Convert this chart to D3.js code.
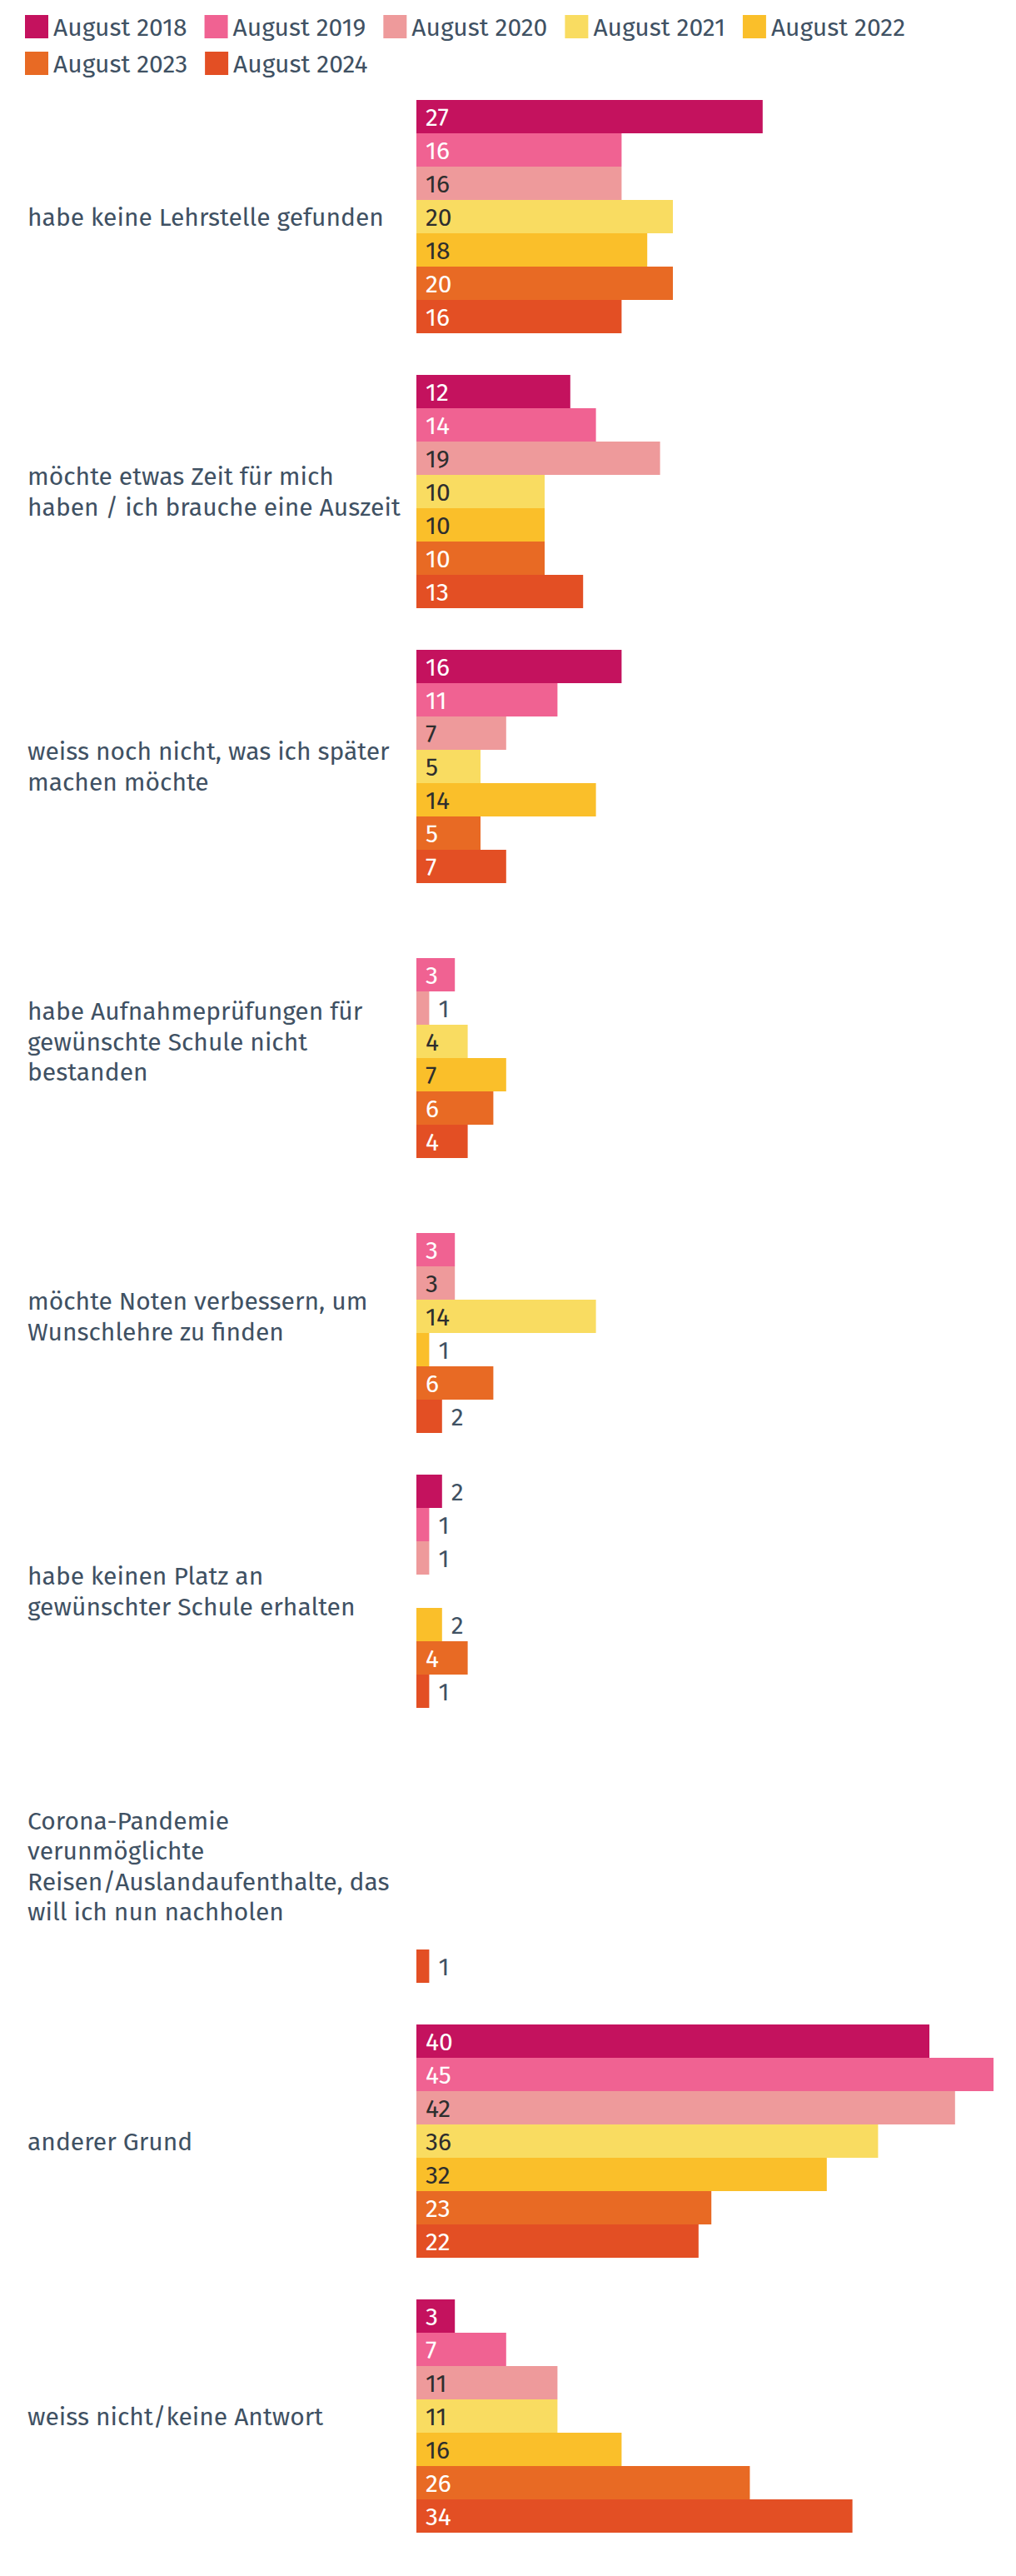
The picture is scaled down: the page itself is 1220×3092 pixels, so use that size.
<!DOCTYPE html>
<html>
<head>
<meta charset="utf-8">
<script src="https://cdn.jsdelivr.net/npm/d3@7"></script>
<style>
  html, body { margin: 0; padding: 0; background: #ffffff; }
  svg { display: block; }
  text { font-family: "Fira Sans", "Open Sans", "Noto Sans", sans-serif; }
</style>
</head>
<body>
<div id="chart"></div>
<script>
// ---------- data ----------
const years = ["August 2018", "August 2019", "August 2020", "August 2021", "August 2022", "August 2023", "August 2024"];

const categories = [
  "habe keine Lehrstelle gefunden",
  "möchte etwas Zeit für mich\nhaben / ich brauche eine Auszeit",
  "weiss noch nicht, was ich später\nmachen möchte",
  "habe Aufnahmeprüfungen für\ngewünschte Schule nicht\nbestanden",
  "möchte Noten verbessern, um\nWunschlehre zu finden",
  "habe keinen Platz an\ngewünschter Schule erhalten",
  "Corona-Pandemie\nverunmöglichte\nReisen/Auslandaufenthalte, das\nwill ich nun nachholen",
  "anderer Grund",
  "weiss nicht/keine Antwort"
];

// values per year, in category order (null = no bar)
const values2018 = [27, 12, 16, null, null, 2, null, 40, 3];
const values2019 = [16, 14, 11, 3, 3, 1, null, 45, 7];
const values2020 = [16, 19, 7, 1, 3, 1, null, 42, 11];
const values2021 = [20, 10, 5, 4, 14, null, null, 36, 11];
const values2022 = [18, 10, 14, 7, 1, 2, null, 32, 16];
const values2023 = [20, 10, 5, 6, 6, 4, null, 23, 26];
const values2024 = [16, 13, 7, 4, 2, 1, 1, 22, 34];

const seriesValues = [values2018, values2019, values2020, values2021, values2022, values2023, values2024];

const colors = ["#c4125e", "#f06292", "#ee9a9b", "#f9dc61", "#fabf2a", "#e86a24", "#e34f24"];
const labelInsideColors = ["#ffffff", "#ffffff", "#2e2e2e", "#2e2e2e", "#2e2e2e", "#ffffff", "#ffffff"];

// ---------- layout ----------
const W = 1220, H = 3092;
const textColor = "#3f5163";
const fontSize = 30;

const svg = d3.select("#chart").append("svg")
  .attr("width", W).attr("height", H);

// legend
const legend = svg.append("g");
let lx = 30, ly = 18;
years.forEach((y, i) => {
  const g = legend.append("g");
  const t = g.append("text")
    .attr("font-size", fontSize)
    .attr("fill", textColor)
    .attr("dy", "0.35em")
    .text(y);
  const tw = t.node().getComputedTextLength();
  const itemW = 28 + 6 + tw;
  if (lx + itemW > W - 10) { lx = 30; ly += 44; }
  g.append("rect").attr("x", lx).attr("y", ly).attr("width", 28).attr("height", 28).attr("fill", colors[i]);
  t.attr("x", lx + 34).attr("y", ly + 14);
  lx += itemW + 21;
});

// scales
const x = d3.scaleLinear().domain([0, 45]).range([500, 1193]);
const y0 = d3.scaleBand().domain(categories).range([120, 3040]).paddingInner(50 / 330).paddingOuter(0);
const y1 = d3.scaleBand().domain(years).range([0, y0.bandwidth()]);

// data rows
const rows = [];
categories.forEach((c, ci) => {
  years.forEach((yr, si) => {
    const v = seriesValues[si][ci];
    if (v !== null && v !== undefined) rows.push({ cat: c, year: yr, si, v });
  });
});

const plot = svg.append("g");

plot.selectAll("rect.bar")
  .data(rows)
  .join("rect")
  .attr("class", "bar")
  .attr("x", x(0))
  .attr("y", d => y0(d.cat) + y1(d.year))
  .attr("width", d => x(d.v) - x(0))
  .attr("height", y1.bandwidth())
  .attr("fill", d => colors[d.si]);

plot.selectAll("text.val")
  .data(rows)
  .join("text")
  .attr("class", "val")
  .attr("font-size", fontSize)
  .attr("dy", "0.35em")
  .attr("y", d => y0(d.cat) + y1(d.year) + y1.bandwidth() / 2)
  .attr("x", d => (x(d.v) - x(0) >= 40) ? x(0) + 11 : x(d.v) + 11)
  .attr("fill", d => (x(d.v) - x(0) >= 40) ? labelInsideColors[d.si] : textColor)
  .text(d => d.v);

// category labels
const lineH = 36.4;
const catG = plot.selectAll("text.cat")
  .data(categories)
  .join("text")
  .attr("class", "cat")
  .attr("font-size", fontSize)
  .attr("fill", textColor)
  .attr("x", 33)
  .attr("y", d => y0(d) + y0.bandwidth() / 2);

catG.each(function(d) {
  const lines = d.split("\n");
  const t = d3.select(this);
  const startDy = -(lines.length - 1) / 2 * lineH;
  lines.forEach((ln, i) => {
    t.append("tspan")
      .attr("x", 33)
      .attr("dy", i === 0 ? (startDy + fontSize * 0.35) : lineH)
      .text(ln);
  });
});
</script>
</body>
</html>
